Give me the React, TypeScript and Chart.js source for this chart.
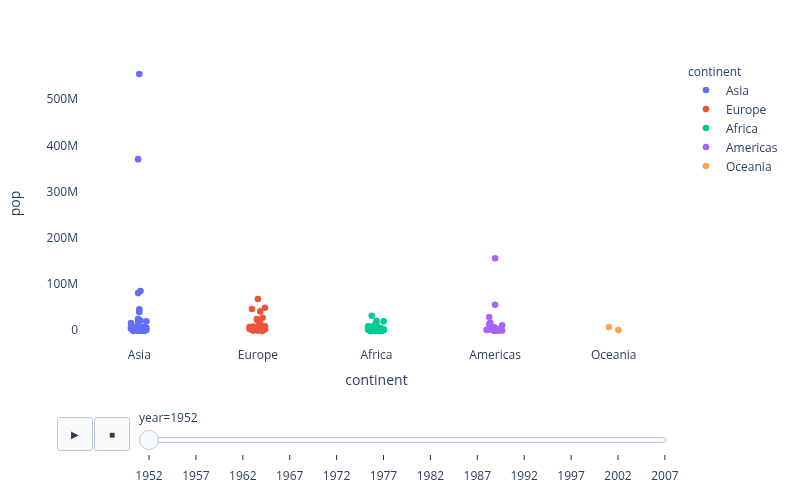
import React, { useEffect, useRef } from "react";
import { Chart, registerables } from "chart.js";
Chart.register(...registerables);

const continents = ["Asia", "Europe", "Africa", "Americas", "Oceania"];
const colors = ["#636efa", "#EF553B", "#00cc96", "#ab63fa", "#FFA15A"];

const asiaPop = [8425333, 120447, 46886859, 4693836, 556263527, 2125900, 372000000, 82052000, 17272000, 5441766, 1620914, 86459025, 607914, 8865488, 20947571, 160000, 1439529, 6748378, 800663, 20092996, 9182536, 507833, 41346560, 22438691, 4005677, 1127000, 7982342, 3661549, 8550362, 21289402, 26246839, 1030585, 4963829];
const europePop = [1282697, 6927772, 8730405, 2791000, 7274900, 3882229, 9125183, 4334000, 4090500, 42459667, 69145952, 7733250, 9504000, 147962, 2952156, 47666000, 413834, 10381988, 3327728, 25730551, 8526050, 16630000, 6860147, 3558137, 1489518, 28549870, 7124673, 4815000, 22235677, 50430000];
const africaPop = [9279525, 4232095, 1738315, 442308, 4469979, 2445618, 5009067, 1291695, 2682462, 153936, 14100005, 854885, 2977019, 63149, 22223309, 216964, 1438760, 20860941, 420702, 284320, 5581001, 2664249, 580653, 6464046, 748747, 863308, 1019729, 4762912, 2917802, 3838168, 1022556, 516556, 9939217, 6446316, 485831, 3379468, 33119096, 257700, 2534927, 60011, 2755589, 2143249, 2526994, 14264935, 8504667, 290243, 8322925, 1219113, 3647735, 5824797, 2672000, 3080907];
const americasPop = [17876956, 2883315, 56602560, 14785584, 6377619, 12350771, 926317, 6007797, 2491346, 3548753, 2042865, 3146381, 3201488, 1517453, 1426095, 30144317, 1165790, 940080, 1555876, 8025700, 2227000, 662850, 157553000, 2252965, 5439568];
const oceaniaPop = [8691212, 1994794];
const populations = [asiaPop, europePop, africaPop, americasPop, oceaniaPop];

const yTickValues = [0, 100000000, 200000000, 300000000, 400000000, 500000000];
const yTickLabels = ["0", "100M", "200M", "300M", "400M", "500M"];
const years = [1952, 1957, 1962, 1967, 1972, 1977, 1982, 1987, 1992, 1997, 2002, 2007];
const currentYear = 1952;

// strip-plot jitter (category-width fraction), cycled
const jitter = [-0.04, 0.04, 0.0, -0.05, 0.0, 0.06, -0.01, -0.01, -0.07, 0.02, 0.0, 0.01];

const FONT = '"Open Sans", verdana, arial, sans-serif';
const TEXT = "#2a3f5f";

export default function App() {
  const ref = useRef<HTMLCanvasElement | null>(null);
  useEffect(() => {
    if (!ref.current) return;
    const datasets = continents.map((c, i) => ({
      label: c,
      data: populations[i].map((p, j) => ({ x: i + jitter[j % jitter.length], y: p })),
      backgroundColor: colors[i],
      borderWidth: 0,
      pointRadius: 3.3,
      showLine: false,
    }));
    const chart = new Chart(ref.current, {
      type: "scatter",
      data: { datasets },
      options: {
        animation: false,
        responsive: false,
        layout: { padding: { left: 0, top: 60, right: 127, bottom: 111 } },
        plugins: { legend: { display: false }, tooltip: { enabled: false } },
        scales: {
          x: {
            type: "linear",
            min: -0.5,
            max: 4.5,
            grid: { display: false, drawTicks: false },
            border: { display: false },
            afterBuildTicks: (s: any) => {
              s.ticks = continents.map((_, i) => ({ value: i }));
            },
            afterFit: (s: any) => {
              s.height = 42;
            },
            ticks: {
              autoSkip: false,
              maxRotation: 0,
              padding: 1,
              color: TEXT,
              font: { family: FONT, size: 12 },
              callback: (v: any) => continents[v] ?? "",
            },
            title: {
              display: true,
              text: "continent",
              color: TEXT,
              font: { family: FONT, size: 14 },
              padding: { top: 0, bottom: 0 },
            },
          },
          y: {
            type: "linear",
            min: -34600000,
            max: 586600000,
            grid: { display: false, drawTicks: false },
            border: { display: false },
            afterBuildTicks: (s: any) => {
              s.ticks = yTickValues.map((v) => ({ value: v }));
            },
            afterFit: (s: any) => {
              s.width = 80;
            },
            ticks: {
              padding: 2,
              color: TEXT,
              font: { family: FONT, size: 12 },
              callback: (v: any) => yTickLabels[yTickValues.indexOf(v)] ?? "",
            },
            title: {
              display: true,
              text: "pop",
              color: TEXT,
              font: { family: FONT, size: 14 },
              padding: { top: 8, bottom: 0 },
            },
          },
        },
      },
    });
    return () => chart.destroy();
  }, []);

  const sliderLeft = 149;
  const sliderStep = 46.9;

  return (
    <div style={{ position: "fixed", left: 0, top: 0, width: 800, height: 500, background: "#fff" }}>
      <canvas ref={ref} width={800} height={500} style={{ display: "block", width: 800, height: 500 }} />
      <svg
        width={800}
        height={500}
        style={{ position: "absolute", left: 0, top: 0, pointerEvents: "none", fontFamily: FONT }}
      >
        {/* legend */}
        <text x={688} y={71} fontSize={12} fill={TEXT} dominantBaseline="central">continent</text>
        {continents.map((c, i) => (
          <g key={c}>
            <circle cx={706} cy={90 + i * 19} r={3.3} fill={colors[i]} />
            <text x={726} y={90 + i * 19} fontSize={12} fill={TEXT} dominantBaseline="central">{c}</text>
          </g>
        ))}
        {/* play / stop buttons */}
        <rect x={57.5} y={417.5} width={35} height={33} rx={2} fill="#F8FAFC" stroke="#BEC8D9" />
        <text x={75} y={434} fontSize={10} fill={TEXT} textAnchor="middle" dominantBaseline="central">▶</text>
        <rect x={94.5} y={417.5} width={35} height={33} rx={2} fill="#F8FAFC" stroke="#BEC8D9" />
        <text x={112} y={434} fontSize={10} fill={TEXT} textAnchor="middle" dominantBaseline="central">■</text>
        {/* slider */}
        <text x={139} y={417} fontSize={12} fill={TEXT} dominantBaseline="central">{"year=" + currentYear}</text>
        <rect x={148.5} y={437.5} width={517} height={5} rx={2} fill="#F8FAFC" stroke="#BEC8D9" />
        {years.map((y, i) => (
          <g key={y}>
            <line
              x1={sliderLeft + i * sliderStep}
              x2={sliderLeft + i * sliderStep}
              y1={455}
              y2={460}
              stroke="#333"
              strokeWidth={1}
            />
            <text
              x={sliderLeft + i * sliderStep}
              y={475}
              fontSize={12}
              fill={TEXT}
              textAnchor="middle"
              dominantBaseline="central"
            >
              {y}
            </text>
          </g>
        ))}
        <circle
          cx={sliderLeft + years.indexOf(currentYear) * sliderStep}
          cy={440}
          r={9.5}
          fill="#F8FAFC"
          stroke="#BEC8D9"
        />
      </svg>
    </div>
  );
}
